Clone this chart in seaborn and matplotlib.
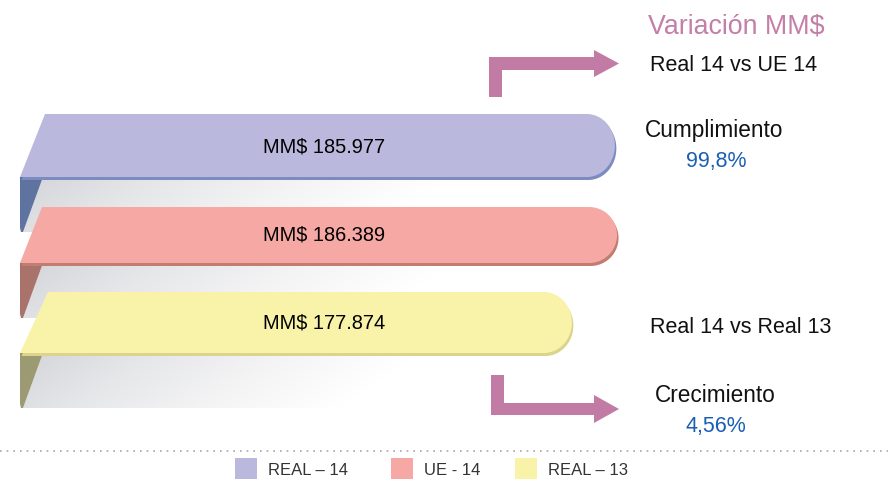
import numpy as np
import seaborn as sns
import matplotlib.pyplot as plt
from matplotlib.patches import Polygon, Rectangle
from matplotlib.colors import LinearSegmentedColormap

# data
series = ["REAL – 14", "UE - 14", "REAL – 13"]
values = [185.977, 186.389, 177.874]
bar_labels = ["MM$ 185.977", "MM$ 186.389", "MM$ 177.874"]
title = "Variación MM$"
cmp_top = ["Real 14 vs UE 14", "Cumplimiento", "99,8%"]
cmp_bottom = ["Real 14 vs Real 13", "Crecimiento", "4,56%"]

# styles
face_cols = ["#bbb8dd", "#f6a8a4", "#f8f3a9"]
edge_cols = ["#7d8cc0", "#c27c72", "#dcd48e"]
side_cols = ["#5f73a0", "#a9726b", "#9c9a72"]
arrow_col = "#c27ba5"
blue_txt = "#1a5fb4"

sns.set_theme(style="white")
plt.rcParams["font.family"] = ["Liberation Sans", "DejaVu Sans"]

W, H = 888, 483
fig = plt.figure(figsize=(W / 100, H / 100), dpi=100)
fig.patch.set_facecolor("white")

# bar axis: x in MM$ (thousands), y in layout pixels
ax = fig.add_axes([0, 0, 1, 1])
ax.set_xlim(70, 237.5)
ax.set_ylim(H, 0)
ax.axis("off")
ux = (237.5 - 70) / W
base = 70 + 20 * ux

# layout per bar: top, bottom of face, slant of left edge (px)
faces = [(114, 177, 25), (207, 263, 22), (292, 353, 28)]
depth = 55
rx = 28 * ux
gray = LinearSegmentedColormap.from_list("g", ["#d4d5d9", "#e6e7e9", "#f4f4f5", "#ffffff"])

for i, (v, (yt, yb, sl)) in enumerate(zip(values, faces)):
    z = 2 + i * 5
    # shaded underside, darker towards the lower left
    band = Polygon([(base + 23 * ux, yb), (v - 15 * ux, yb), (v - 15 * ux, yb + depth),
                    (base + 3 * ux, yb + depth)], closed=True, facecolor="none",
                   edgecolor="none", zorder=z)
    ax.add_patch(band)
    gx = np.linspace(0, 1, 300)[None, :]
    gy = np.linspace(0, 1, 40)[:, None]
    grad = np.clip(gx * 1.35 + gy * 0.2, 0, 1)
    im = ax.imshow(grad, cmap=gray, aspect="auto", vmin=0, vmax=1,
                   extent=(base, v - 15 * ux, yb + depth, yb), zorder=z)
    im.set_clip_path(band)
    # dark left side
    ax.add_patch(Polygon([(base, yb), (base + 23 * ux, yb), (base + 3 * ux, yb + depth),
                          (base + 1 * ux, yb + depth), (base, yb + depth - 4)],
                         closed=True, facecolor=side_cols[i], edgecolor="none", zorder=z + 1))
    # top face with rounded right end
    ym, ry = (yt + yb) / 2, (yb - yt) / 2
    t = np.linspace(np.pi / 2, -np.pi / 2, 40)
    arc = [(v - rx + rx * np.cos(a), ym - ry * np.sin(a)) for a in t]
    pts = [(base, yb), (base + sl * ux, yt), (v - rx, yt)] + arc + [(v - rx, yb)]
    shadow = [(x + 1.5 * ux, y + 3) for x, y in pts]
    ax.add_patch(Polygon(shadow, closed=True, facecolor=edge_cols[i], edgecolor="none", zorder=z + 2))
    ax.add_patch(Polygon(pts, closed=True, facecolor=face_cols[i], edgecolor="none", zorder=z + 3))

# overlay in pixel coordinates for texts, arrows and legend
lay = fig.add_axes([0, 0, 1, 1], facecolor="none")
lay.set_xlim(0, W)
lay.set_ylim(H, 0)
lay.axis("off")

for lab, yb in zip(bar_labels, [152, 241, 329]):
    lay.text(263, yb, lab, fontsize=14.4, color="black", va="baseline", ha="left", zorder=30)

lay.text(648, 33, title, fontsize=19.3, color="#c47fa8", va="baseline")
lay.text(650, 71, cmp_top[0], fontsize=15.5, color="#111111", va="baseline")
lay.text(645, 137, cmp_top[1], fontsize=16.3, color="#111111", va="baseline")
lay.text(716, 167, cmp_top[2], fontsize=15.5, color=blue_txt, va="baseline", ha="center")
lay.text(650, 333, cmp_bottom[0], fontsize=15.5, color="#111111", va="baseline")
lay.text(655, 402, cmp_bottom[1], fontsize=16.3, color="#111111", va="baseline")
lay.text(716, 432, cmp_bottom[2], fontsize=15.5, color=blue_txt, va="baseline", ha="center")

# bent arrows
up_arrow = [(489, 97), (489, 57), (594, 57), (594, 50), (619, 63.5), (594, 77),
            (594, 70), (502, 70), (502, 97)]
down_arrow = [(491, 375), (504, 375), (504, 403), (594, 403), (594, 395), (619, 409),
              (594, 423), (594, 415), (491, 415)]
for shape in (up_arrow, down_arrow):
    lay.add_patch(Polygon(shape, closed=True, facecolor=arrow_col, edgecolor="none"))

# dotted separator
lay.plot([0, W], [451, 451], color="#a5a5a5", lw=1.2, ls=(0, (1, 3)))

# legend
for name, col, xs, xt in zip(series, face_cols, [235, 391, 515], [268, 424, 548]):
    lay.add_patch(Rectangle((xs, 458), 22, 21, facecolor=col, edgecolor="none"))
    lay.text(xt, 475, name, fontsize=12, color="#333333", va="baseline")

fig.savefig("out.png", dpi=100, facecolor="white")
